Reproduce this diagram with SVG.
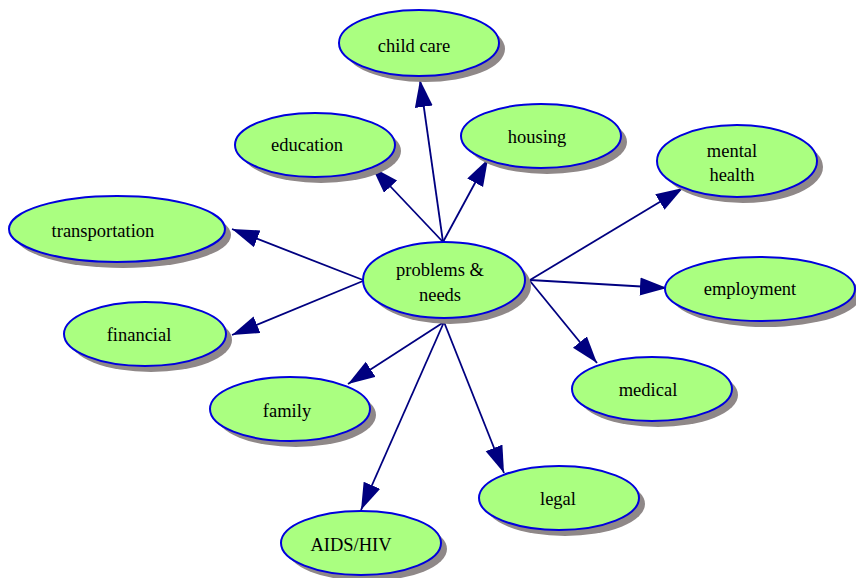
<svg xmlns="http://www.w3.org/2000/svg" width="856" height="578" viewBox="0 0 856 578">
<style>
.sh{fill:#8f8888;stroke:none}
.nd{fill:#aaff80;stroke:#0000dd;stroke-width:2}
.lb{font-family:'Liberation Serif','DejaVu Serif','Times New Roman',serif;font-size:18.5px;fill:#000;text-anchor:middle}
.ed{stroke:#000080;stroke-width:1.8;fill:none;marker-end:url(#ah)}
</style>
<defs>
<marker id="ah" markerUnits="userSpaceOnUse" markerWidth="30" markerHeight="20" refX="27" refY="9" orient="auto">
<path d="M0,0 L27,9 L0,18 z" fill="#000080"/>
</marker>
</defs>
<g id="connectors">
<line class="ed" x1="443" y1="242" x2="420" y2="80"/>
<line class="ed" x1="443" y1="242" x2="372" y2="167"/>
<line class="ed" x1="443" y1="242" x2="488" y2="159"/>
<line class="ed" x1="530" y1="280" x2="683" y2="188"/>
<line class="ed" x1="530" y1="280" x2="667" y2="288"/>
<line class="ed" x1="530" y1="281" x2="597" y2="363"/>
<line class="ed" x1="363" y1="280" x2="232" y2="229"/>
<line class="ed" x1="363" y1="281" x2="232" y2="335"/>
<line class="ed" x1="444" y1="322" x2="348" y2="384"/>
<line class="ed" x1="444" y1="322" x2="361" y2="510"/>
<line class="ed" x1="444" y1="322" x2="504" y2="473"/>
</g>
<g id="problems">
<ellipse class="sh" cx="450" cy="286" rx="81" ry="38"/>
<ellipse class="nd" cx="444" cy="280" rx="81" ry="38"/>
<text class="lb" x="440" y="276">problems &amp;</text>
<text class="lb" x="440" y="301">needs</text>
</g>
<g id="childcare">
<ellipse class="sh" cx="425" cy="49" rx="80" ry="33"/>
<ellipse class="nd" cx="419" cy="43" rx="80" ry="33"/>
<text class="lb" x="414" y="52">child care</text>
</g>
<g id="education">
<ellipse class="sh" cx="321" cy="151" rx="80" ry="32"/>
<ellipse class="nd" cx="315" cy="145" rx="80" ry="32"/>
<text class="lb" x="307" y="151">education</text>
</g>
<g id="housing">
<ellipse class="sh" cx="547" cy="142" rx="80" ry="32"/>
<ellipse class="nd" cx="541" cy="136" rx="80" ry="32"/>
<text class="lb" x="537" y="143">housing</text>
</g>
<g id="mentalhealth">
<ellipse class="sh" cx="743" cy="167" rx="80" ry="36"/>
<ellipse class="nd" cx="737" cy="161" rx="80" ry="36"/>
<text class="lb" x="732" y="157">mental</text>
<text class="lb" x="732" y="181">health</text>
</g>
<g id="transportation">
<ellipse class="sh" cx="123" cy="235" rx="108" ry="33"/>
<ellipse class="nd" cx="117" cy="229" rx="108" ry="33"/>
<text class="lb" x="103" y="237">transportation</text>
</g>
<g id="employment">
<ellipse class="sh" cx="766" cy="295" rx="95" ry="32"/>
<ellipse class="nd" cx="760" cy="289" rx="95" ry="32"/>
<text class="lb" x="750" y="295">employment</text>
</g>
<g id="financial">
<ellipse class="sh" cx="151" cy="340" rx="81" ry="32"/>
<ellipse class="nd" cx="145" cy="334" rx="81" ry="32"/>
<text class="lb" x="139" y="341">financial</text>
</g>
<g id="medical">
<ellipse class="sh" cx="658" cy="395" rx="80" ry="32"/>
<ellipse class="nd" cx="652" cy="389" rx="80" ry="32"/>
<text class="lb" x="648" y="396">medical</text>
</g>
<g id="family">
<ellipse class="sh" cx="296" cy="415" rx="80" ry="32"/>
<ellipse class="nd" cx="290" cy="409" rx="80" ry="32"/>
<text class="lb" x="287" y="417">family</text>
</g>
<g id="legal">
<ellipse class="sh" cx="565" cy="504" rx="80" ry="32"/>
<ellipse class="nd" cx="559" cy="498" rx="80" ry="32"/>
<text class="lb" x="558" y="505">legal</text>
</g>
<g id="aids">
<ellipse class="sh" cx="367" cy="549" rx="80" ry="32"/>
<ellipse class="nd" cx="361" cy="543" rx="80" ry="32"/>
<text class="lb" x="351" y="551">AIDS/HIV</text>
</g>
</svg>
